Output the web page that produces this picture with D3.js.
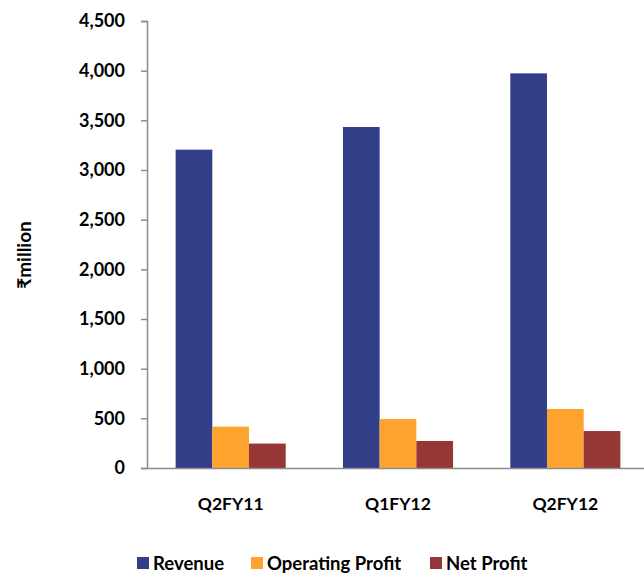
<!DOCTYPE html>
<html>
<head>
<meta charset="utf-8">
<script src="https://cdn.jsdelivr.net/npm/d3@7"></script>
<style>
  html, body { margin: 0; padding: 0; background: #fff; }
  svg { display: block; }
  text { font-family: Lato, "Noto Sans", "DejaVu Sans", sans-serif; font-weight: bold; fill: #000; }
</style>
</head>
<body>
<svg id="chart" width="644" height="575"></svg>
<script>
// Quarterly figures, ₹ million
const categories = ["Q2FY11", "Q1FY12", "Q2FY12"];
const seriesNames = ["Revenue", "Operating Profit", "Net Profit"];
const revenue = [3205, 3433, 3973];
const operatingProfit = [417, 493, 594];
const netProfit = [246, 272, 372];
const yTicks = [0, 500, 1000, 1500, 2000, 2500, 3000, 3500, 4000, 4500];
const colors = ["#323f88", "#ffa32f", "#953735"];

const seriesValues = [revenue, operatingProfit, netProfit];
const rows = categories.map((c, i) => ({
  category: c,
  values: seriesNames.map((s, j) => ({ series: s, value: seriesValues[j][i] }))
}));

const svg = d3.select("#chart");
const plotLeft = 147, plotRight = 649, plotTop = 21, plotBottom = 468;

const x0 = d3.scaleBand().domain(categories).range([plotLeft, plotRight]).paddingInner(0).paddingOuter(0);
const x1 = d3.scaleBand().domain(seriesNames).range([0, x0.bandwidth()]).paddingInner(0).paddingOuter(0.78);
const y = d3.scaleLinear().domain([0, 4500]).range([plotBottom, plotTop]);
const color = d3.scaleOrdinal().domain(seriesNames).range(colors);

// Bars
const groups = svg.append("g").selectAll("g").data(rows).join("g")
  .attr("transform", d => `translate(${x0(d.category)},0)`);
groups.selectAll("rect").data(d => d.values).join("rect")
  .attr("x", d => x1(d.series))
  .attr("y", d => y(d.value))
  .attr("width", x1.bandwidth())
  .attr("height", d => y(0) - y(d.value))
  .attr("fill", d => color(d.series));

// Y axis
const yAxis = svg.append("g")
  .attr("transform", `translate(${plotLeft},0)`)
  .call(d3.axisLeft(y).tickValues(yTicks).tickFormat(d3.format(",")).tickSize(6).tickPadding(16));
yAxis.select(".domain").attr("stroke", "#8c8c8c").attr("stroke-width", 1.5);
yAxis.selectAll(".tick line").attr("stroke", "#8c8c8c").attr("stroke-width", 1.5);
yAxis.selectAll(".tick text").attr("font-size", 18).attr("font-family", "Lato, sans-serif").attr("font-weight", "bold");

// X axis
const xAxis = svg.append("g")
  .attr("transform", `translate(0,${plotBottom})`)
  .call(d3.axisBottom(x0).tickSize(0).tickPadding(30));
xAxis.select(".domain").attr("stroke", "#8c8c8c").attr("stroke-width", 1.5);
xAxis.selectAll(".tick text").attr("font-size", 17.5).attr("font-family", "Lato, sans-serif").attr("font-weight", "bold");

// Y axis title
svg.append("text")
  .attr("transform", "translate(31,255) rotate(-90)")
  .attr("text-anchor", "middle")
  .attr("font-size", 19)
  .text("₹million");

// Legend
const legendItems = [
  { name: "Revenue", x: 137 },
  { name: "Operating Profit", x: 251 },
  { name: "Net Profit", x: 430 }
];
const legend = svg.append("g").selectAll("g").data(legendItems).join("g")
  .attr("transform", d => `translate(${d.x},557)`);
legend.append("rect").attr("width", 12).attr("height", 12).attr("fill", d => color(d.name));
legend.append("text").attr("x", 16).attr("y", 13).attr("font-size", 18.5).text(d => d.name);
</script>
</body>
</html>
